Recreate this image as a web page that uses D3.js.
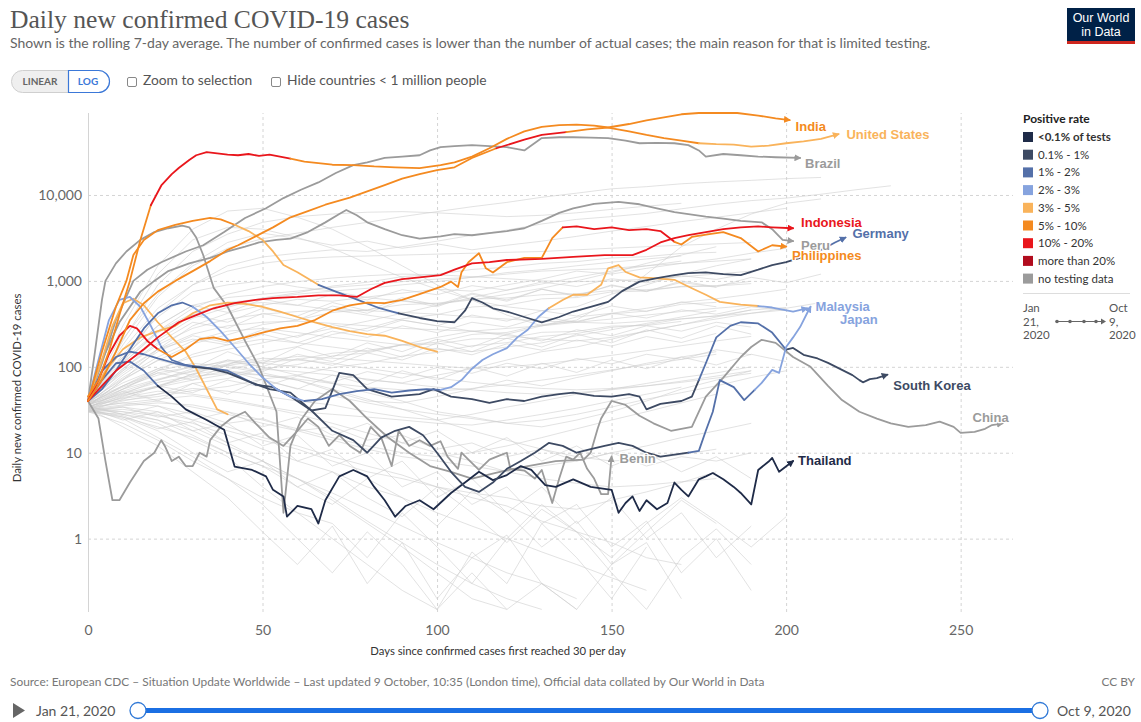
<!DOCTYPE html>
<html>
<head>
<meta charset="utf-8">
<script src="https://cdn.jsdelivr.net/npm/d3@7"></script>
<style>
  body { margin: 0; background: #fff; }
  svg { display: block; font-family: Lato, "Noto Sans", sans-serif; }
</style>
</head>
<body>
<svg id="chart" width="1141" height="722"></svg>
<script>
// ---------------------------------------------------------------------------
// Data: rolling 7-day average of daily new confirmed cases, indexed by
// days since the country first reached 30 cases per day.
// Each highlighted country: [day, cases] points + positive-rate bands [fromDay, band].
// ---------------------------------------------------------------------------
const yTickValues = [1, 10, 100, 1000, 10000];
const xTickValues = [0, 50, 100, 150, 200, 250];

const unitedStates = [[0,45],[3,70],[6,150],[9,400],[12,1000],[15,3000],[18,7600],[21,12900],[24,17500],[26,20600],[29,25500],[31,29000],[34,31500],[37,30500],[40,29500],[43,29000],[46,30000],[49,28500],[52,29500],[55,28000],[58,26500],[62,24500],[66,23500],[70,22500],[76,22300],[82,21500],[88,21000],[95,20500],[101,22300],[105,24000],[110,28000],[115,35000],[120,45000],[125,55000],[130,62000],[135,65000],[140,66000],[145,64000],[149,61000],[155,55000],[160,50000],[165,46000],[170,43000],[175,40000],[180,39000],[185,38500],[190,36500],[195,37500],[200,40000],[205,42000],[210,45000],[215,51000]];
const unitedStatesRate = [[0,'f'],[18,'g'],[57,'f'],[172,'e']];

const india = [[0,40],[4,70],[8,150],[12,350],[16,550],[20,750],[25,1000],[30,1300],[35,1700],[40,2300],[43,2600],[48,3300],[53,4200],[58,5500],[63,6500],[68,7700],[75,9300],[80,11000],[85,13000],[90,15500],[95,17500],[100,19500],[105,21000],[110,27000],[117,35000],[125,44000],[130,50000],[137,54000],[143,58000],[149,61000],[155,67000],[160,74000],[165,80000],[170,87000],[175,92000],[180,92000],[186,90000],[192,84000],[197,78000],[201,74500]];
const indiaRate = [[0,'f'],[115,'g'],[137,'f']];

const brazil = [[0,40],[4,110],[8,350],[13,1000],[17,1350],[21,1650],[28,2200],[33,2600],[39,3700],[45,5400],[51,7000],[56,9200],[61,11500],[66,14000],[71,18000],[76,22300],[80,24000],[85,27000],[90,28000],[95,29000],[98,33000],[101,36000],[105,37000],[110,38000],[115,37000],[120,36000],[125,33000],[130,46000],[135,47000],[139,47000],[144,46500],[149,46000],[154,43000],[158,40000],[163,40500],[168,40000],[172,38000],[175,33000],[177,28000],[182,30000],[187,29000],[192,28000],[197,27500],[204,27000]];
const brazilRate = [[0,'n']];

const indonesia = [[0,40],[4,60],[8,90],[12,120],[16,160],[20,220],[26,330],[31,400],[36,480],[42,550],[48,600],[53,630],[60,650],[66,680],[72,680],[77,650],[81,800],[85,950],[90,1050],[95,1100],[101,1170],[105,1350],[110,1600],[115,1650],[120,1750],[130,1800],[139,1900],[148,2000],[156,2000],[160,2300],[164,2800],[168,3150],[172,3400],[177,3700],[182,4000],[187,4200],[192,4300],[196,4200],[202,4100]];
const indonesiaRate = [[0,'g']];

const peru = [[0,40],[4,120],[9,330],[15,750],[19,1000],[23,1300],[29,1600],[35,1850],[40,2200],[45,2500],[49,2800],[54,3000],[58,3100],[63,3700],[68,4800],[72,6000],[74,6700],[77,5800],[80,4800],[85,4000],[90,3400],[95,3100],[101,3300],[105,3500],[110,3400],[115,3600],[120,3800],[125,4100],[130,5000],[135,6200],[139,7000],[145,7900],[152,8300],[158,7800],[163,7000],[168,6300],[172,6000],[177,5600],[182,5300],[187,5000],[193,4800],[196,4000],[199,3000],[202,2900]];
const peruRate = [[0,'n']];

const philippines = [[0,40],[3,70],[6,140],[9,230],[12,300],[14,280],[17,200],[20,160],[24,130],[28,160],[32,210],[36,220],[40,200],[45,220],[50,250],[55,280],[60,300],[65,350],[70,450],[75,520],[80,560],[85,550],[90,600],[95,700],[101,850],[104,980],[106,850],[107,1260],[109,1650],[112,2100],[114,1400],[116,1250],[120,1650],[125,1850],[130,1850],[133,3150],[136,4200],[140,4300],[145,4000],[150,4200],[155,3900],[160,4000],[164,3800],[168,2850],[170,2650],[173,3250],[178,3500],[182,3700],[187,3150],[192,2200],[196,2600],[200,2500]];
const philippinesRate = [[0,'g'],[20,'f'],[135,'g'],[165,'f']];

const germany = [[0,40],[4,150],[8,500],[11,1000],[13,2000],[16,3000],[20,3900],[25,4500],[30,5000],[35,5400],[38,5200],[42,4500],[46,3800],[50,3000],[53,2200],[56,1530],[60,1260],[66,900],[71,750],[76,630],[83,490],[89,420],[95,370],[100,340],[105,330],[108,450],[110,630],[113,560],[116,480],[120,440],[125,380],[130,330],[135,380],[139,440],[144,500],[149,570],[153,760],[158,980],[163,1080],[168,1170],[172,1230],[177,1260],[182,1200],[187,1170],[192,1350],[196,1530],[200,1650],[203,1800],[207,2000],[211,2400],[214,2800],[217,3200]];
const germanyRate = [[0,'f'],[40,'e'],[62,'c'],[85,'b'],[205,'c']];

const japan = [[0,40],[4,55],[8,90],[12,160],[16,280],[20,420],[24,520],[27,560],[30,500],[34,380],[38,260],[42,170],[46,110],[50,75],[54,55],[58,45],[62,40],[67,42],[72,48],[77,52],[82,55],[87,50],[92,53],[97,55],[101,54],[104,58],[107,70],[110,95],[113,120],[116,140],[120,165],[123,220],[126,270],[129,380],[132,480],[136,600],[139,690],[143,690],[147,900],[149,1400],[152,1530],[154,1270],[158,1100],[162,1080],[168,1030],[173,820],[177,690],[181,570],[187,530],[192,510],[196,490],[202,440],[206,480]];
const japanRate = [[0,'c'],[30,'d'],[60,'c'],[100,'d'],[131,'e'],[190,'d']];

const malaysia = [[0,40],[4,90],[8,130],[12,150],[16,140],[20,125],[25,110],[30,100],[35,95],[40,85],[47,65],[52,55],[58,50],[64,31],[70,18],[76,14],[80,10],[84,15],[88,18],[92,20],[96,16],[100,10],[104,6],[108,4],[112,3.5],[116,4.5],[120,6.5],[124,8],[128,10],[132,13],[136,12],[140,10],[144,11],[148,12],[152,13],[156,12],[160,10],[164,9],[168,9.5],[172,10],[175,10.5],[177,18],[179,30],[181,70],[185,58],[188,41],[191,54],[193,65],[196,92],[198,85],[200,170],[202,220],[204,290],[206,420],[207,500]];
const malaysiaRate = [[0,'c'],[30,'b'],[170,'c'],[190,'d']];

const southKorea = [[0,40],[3,120],[6,350],[9,600],[12,650],[15,500],[18,300],[21,170],[24,120],[28,105],[32,100],[36,95],[40,90],[44,75],[48,62],[53,58],[58,45],[64,31],[68,33],[72,85],[76,80],[80,55],[87,45],[95,48],[99,55],[104,45],[110,42],[115,38],[120,42],[125,40],[130,45],[135,48],[139,50],[145,46],[150,45],[155,48],[158,45],[160,32],[164,37],[170,40],[173,45],[175,70],[177,110],[180,220],[184,300],[187,330],[192,320],[196,250],[200,158],[202,166],[205,138],[209,125],[212,111],[216,92],[219,80],[221,70],[222,66],[224,72],[226,74],[229,81]];
const southKoreaRate = [[0,'d'],[20,'c'],[45,'b'],[175,'c'],[198,'b']];

const thailand = [[0,40],[4,70],[8,110],[12,115],[16,90],[20,60],[24,45],[28,32],[34,24],[39,18.5],[42,6.9],[47,6.3],[51,5.3],[53,3.7],[56,3.1],[57,1.8],[60,2.4],[64,2.2],[66,1.5],[68,2.8],[72,5.3],[76,6.3],[80,5.3],[82,4],[85,2.8],[88,1.8],[91,2.4],[95,2.8],[99,2.2],[104,3.4],[108,4.5],[112,6],[116,4.8],[120,5.5],[124,7],[127,6.3],[131,4.2],[134,4],[139,4.9],[144,4],[150,3.7],[152,2],[154,2.6],[156,3.1],[158,2.1],[160,2.8],[163,2.2],[166,2.6],[168,4.5],[170,3.7],[172,3.1],[175,4.9],[177,5.3],[179,5.8],[182,4.9],[185,4],[187,3.4],[190,2.5],[192,6.3],[195,7.9],[196,8.7],[198,6],[202,8]];
const thailandRate = [[0,'c'],[20,'a']];

const china = [[0,40],[2,150],[4,600],[5,1000],[8,1600],[11,2200],[15,3000],[19,3700],[23,4100],[27,4400],[29,4200],[31,3200],[33,2000],[36,830],[40,500],[45,200],[49,100],[54,30],[56,2],[58,12],[61,24],[65,40],[70,55],[75,40],[80,25],[86,15],[92,10],[98,7],[104,6],[110,5],[118,6],[126,7],[134,8],[142,8.3],[144,10],[146,19],[147,25],[150,40],[154,36],[158,27],[162,22],[167,18],[173,20],[177,45],[182,75],[187,130],[190,170],[193,206],[197,190],[202,130],[207,100],[212,60],[216,41],[221,30],[226,25],[230,22],[235,20],[240,21],[244,23],[248,20],[250,17],[254,17.5],[257,19],[259,21],[262,22]];
const chinaRate = [[0,'n']];

const benin = [[0,40],[3,25],[5,8],[7,2.8],[9,2.8],[12,4.5],[16,8],[19,10],[21,14],[22,12],[24,8],[26,9],[28,7],[30,7],[32,10],[34,9],[35,14],[38,20],[41,25],[45,30],[48,22],[52,15],[56,12],[60,18],[63,25],[66,20],[69,12],[72,16],[75,12],[78,10],[81,20],[84,15],[87,7],[89,18],[92,12],[95,14],[98,12],[101,13.6],[103,9],[106,6.5],[107,10],[109,8.3],[112,6.3],[115,8.3],[118,9.3],[120,10],[121,6.5],[125,6.2],[128,5],[130,6.3],[133,2.6],[135,5],[137,9],[139,8.3],[141,10],[143,6.5],[145,5],[147,3.3],[149,3.3],[150,9]];
const beninRate = [[0,'n']];

// Two further coloured countries drawn without an end label
const earlyPeakA = [[0,40],[4,120],[7,300],[10,550],[13,620],[16,520],[20,330],[24,220],[28,150],[31,95],[34,55],[37,32],[40,28]];
const earlyPeakARate = [[0,'e']];
const earlyPeakB = [[0,40],[5,90],[10,160],[15,220],[20,260],[25,300],[30,420],[35,520],[40,560],[45,540],[50,500],[55,440],[60,380],[65,330],[70,290],[75,260],[80,240],[85,230],[90,200],[95,170],[100,150]];
const earlyPeakBRate = [[0,'e']];

// Remaining countries (light grey), one value every 10 days from day 0
const backgroundSeries = [
  [42,180,650,1500,2400,3100,3600,4200,4800,5600,6400,7300,8200,9400,10500,11800,12500,13500,14200,14800,15500,16000],
  [38,110,420,900,1500,1900,2100,2300,2200,2500,2900,3400,3900,4600,5200,5600,6100,6900,7800,8600,9200,10200,11500,12800],
  [35,70,160,300,420,520,610,580,650,720,800,760,900,1050,1300,1200,1400,1600,1800,2100,2400],
  [40,140,380,750,900,1000,850,760,640,580,540,600,700,820,1000,1250,1600,2000,2500],
  [33,55,90,140,180,210,190,170,150,180,220,260,240,300,380,420,480,560,620,700,800],
  [36,48,70,95,120,110,100,90,70,65,80,95,120,150,170,210,260,310,360,420,480,560],
  [30,42,60,75,90,80,70,52,40,38,45,55,70,60,75,90,110,130,150],
  [44,90,220,400,560,620,700,760,820,900,980,1100,1250,1350,1500,1650,1800,1950],
  [32,40,48,56,52,46,40,36,30,26,24,28,34,40,48,55,64,75,85,100],
  [38,75,130,200,260,280,250,220,200,180,160,150,170,190,230,270,320,380,450],
  [31,34,30,24,18,14,11,8,6,5,4,3.4,3,2.4,2.2,2.8,3.5,4.5,6],
  [40,60,85,100,115,100,80,64,50,40,30,26,22,20,24,30,40,55,70,90],
  [34,38,35,28,20,15,12,9,7,5.5,4,3,2.4,1.6,1.2,0.9,0.6,0.5],
  [45,130,300,520,640,700,760,840,900,980,1050,1100,1200,1300,1350,1400,1500,1600,1700,1800],
  [36,49,60,82,93,113,121,144,155,180,184,211,214,252,258,298,302,338],
  [30,26,20,15,10,7,5,3.4,2.2,1.4,0.9,0.6,0.4,0.3,0.2],
  [42,95,180,280,360,410,440,460,450,430,410,380,360,340,330,320,340,360,390,420,460],
  [39,65,95,130,160,190,230,280,340,420,520,640,780,920,1100,1300,1500,1700],
  [33,44,52,48,42,35,30,28,26,24,22,21,24,28,33,40,48,58],
  [37,60,90,110,100,85,70,55,42,32,24,18,14,11,9,8,8.5,9.5,11],
  [41,120,260,420,520,560,520,460,400,350,300,260,230,210,200,220,260,310,380,460],
  [35,43,48,64,73,95,106,134,145,181,193,238,251,310,338,412,446,535,562],
  [30,28,24,18,12,8,5,3,1.6,0.9,0.5,0.3,0.2,0.15],
  [38,58,80,100,90,70,56,46,38,32,28,25,22,24,28,34,42,50,60,75,90],
  [34,47,58,83,106,146,172,238,281,362,405,497,522,618,640,745,762,865,880,990],
  [43,160,480,900,1300,1600,1800,1900,1950,2000,2050,2100,2150,2200,2300,2400,2500,2600,2700,2800],
  [32,36,40,34,28,22,18,14,11,9,8,7,6,7,8,10,12,15,18,22],
  [37,52,70,88,104,118,132,126,118,110,102,96,100,108,120,136,154,176,200,226],
  [31,30,27,22,16,11,8,6,4,3,2,1.4,1,0.7,0.5,0.35,0.25],
  [40,85,160,240,300,330,340,320,300,280,270,260,280,300,330,360,400,440,480,520],
  [35,41,45,53,59,72,80,98,110,133,147,176,191,226,244,288,309,362,392,458,490],
  [44,110,260,480,700,860,980,1080,1150,1200,1180,1120,1060,1000,980,1000,1050,1120,1200,1300],
  [33,38,42,46,40,34,28,22,17,13,10,8,6,5,4.4,4,4.2,4.6,5],
  [36,50,66,78,84,80,72,64,58,54,52,56,62,70,80,92,106,122,140],
  [30,32,28,20,13,8,5,2.8,1.5,0.8,0.4,0.2,0.15],
  [39,72,118,185,236,310,352,430,462,528,551,612,633,690,708,775,790,852,871,930],
  [34,46,58,70,82,94,88,80,72,64,58,54,50,48,50,54,60,68,78,90],
  [42,104,206,368,492,633,728,871,965,1120,1195,1360,1440,1600,1676,1850,1915,2090,2150],
  [31,35,38,36,30,24,19,15,12,10,9,10,12,15,19,24,30,38,48],
  [38,55,72,90,108,126,120,110,96,84,74,66,60,56,54,56,60,66,74,84],
  [44,300,1500,4000,6500,7000,5500,4000,2500,1500,900,600,400,300,350,600,1200,2500,4000,6000,8000,9000],
  [42,250,1200,3000,4200,4000,3200,2400,1600,1100,800,600,500,450,500,700,900,1200,1500,1800],
  [40,200,900,2200,3500,4800,5600,6000,6300,6400,6200,5900,5600,5800,6200,6800,7400,8000],
  [33,20,12,6,3,1.2,0.5,1.4,0.3,0.9,0.2,0.6,1.1,0.3,0.15,0.5,0.9,0.2],
  [31,25,15,9,5,2.5,1,0.4,1.2,0.5,0.15,0.7,0.3,1.5,0.6,0.2,0.8],
  [35,28,22,14,9,4,2,1.5,0.6,2,0.8,0.3,1,2.5,1.2,0.4,0.15,0.6,1.3,0.5],
  [30,22,14,8,5,3,2,1,0.5,0.25,0.15,0.4,0.15,0.3,0.15],
  [34,30,24,16,10,7,4,6,3,1.8,4,2,0.9,2.2,1.2,0.6,1.5,3,1.6,0.8,1.8],
  [32,26,18,10,6,8,4,2.5,5,3,1.4,3.6,2,0.8,1.6,0.5,1.2,2.8,1.5],
  [38,90,160,210,180,240,190,260,220,300,250,330,290,380,330,420,370,460,410,500,450],
  [35,70,120,95,150,110,170,130,190,150,210,170,240,200,270,230,300,260,330,290],
  [41,130,300,520,430,610,520,700,600,790,690,880,780,970,860,1060,950,1150,1040,1240],
  [33,52,40,64,48,72,55,80,62,90,70,100,78,110,86,120,95,130,105,140,115],
  [36,60,95,80,120,100,140,115,165,130,190,150,215,170,240,190,270,215,300,240],
  [30,34,26,30,22,25,18,20,14,16,11,13,9,11,8,10,7,9,8,10],
  [39,110,250,400,330,480,390,560,450,640,520,720,600,800,680,880,760,960,840],
  [32,45,60,50,70,58,78,66,88,74,98,84,110,95,125,108,140,122,158,138],
  [44,210,700,1600,2800,3600,3100,2600,2900,2400,2700,2300,2600,2900,3300,3800,4300,4900,5500,6200,7000],
  [37,80,150,230,190,270,220,310,260,350,300,400,340,450,390,510,440,570,500],
  [34,28,35,24,30,20,26,16,22,13,18,10,15,8,12,7,10,6,9,5],
  [31,27,19,23,13,17,8,11,5,8,3,5,2,4,1.5,3,1,2,0.6,1.4],
  [40,95,190,330,280,420,350,510,420,600,500,700,580,800,660,900,750,1000,850,1100,950,1200],
  [36,55,85,70,105,88,125,104,145,120,165,138,185,156,205,174,225,192,245],
  [33,24,30,18,22,12,16,7,10,4,6,2.5,4,1.5,2.5,0.8,1.6,0.4,1,0.25]
];
const backgroundStep = 10;

const rateKeys = ['a','b','c','d','e','f','g','h','n'];
const rateLabels = ['<0.1% of tests','0.1% - 1%','1% - 2%','2% - 3%','3% - 5%','5% - 10%','10% - 20%','more than 20%','no testing data'];

// ---------------------------------------------------------------------------
// Styling and layout
// ---------------------------------------------------------------------------
const rateColors = {a:'#1f2b48', b:'#3d4a63', c:'#5470a9', d:'#86a3de', e:'#f9b35b', f:'#f48a20', g:'#e9161c', h:'#b10c1e', n:'#9b9b9b'};

const countries = [
  {name:'Benin', pts:benin, rates:beninRate, label:[8,6]},
  {name:'China', pts:china, rates:chinaRate, label:[-30,-1]},
  {name:'Peru', pts:peru, rates:peruRate, label:[8,9]},
  {name:'Brazil', pts:brazil, rates:brazilRate, label:[5,10]},
  {name:null, pts:earlyPeakA, rates:earlyPeakARate},
  {name:null, pts:earlyPeakB, rates:earlyPeakBRate},
  {name:'Thailand', pts:thailand, rates:thailandRate, label:[5,4]},
  {name:'South Korea', pts:southKorea, rates:southKoreaRate, label:[6,15]},
  {name:'Malaysia', pts:malaysia, rates:malaysiaRate, label:[5,4]},
  {name:'Japan', pts:japan, rates:japanRate, label:[33,16]},
  {name:'Germany', pts:germany, rates:germanyRate, label:[7,1]},
  {name:'Philippines', pts:philippines, rates:philippinesRate, label:[6,13]},
  {name:'Indonesia', pts:indonesia, rates:indonesiaRate, label:[8,-1]},
  {name:'India', pts:india, rates:indiaRate, label:[6,11]},
  {name:'United States', pts:unitedStates, rates:unitedStatesRate, label:[8,5]}
];

const svg = d3.select('#chart');
const plot = {left:88, right:1013, top:113, bottom:612};

const x = d3.scaleLinear().domain([0, 265]).range([plot.left, plot.right]);
const y = d3.scaleLog().domain([0.14, 90000]).range([plot.bottom, plot.top]).clamp(true);

svg.append('rect').attr('width', 1141).attr('height', 722).attr('fill', '#fff');

// Header
svg.append('text').attr('x', 10).attr('y', 28)
  .style('font-family', '"Liberation Serif", "DejaVu Serif", serif')
  .style('font-size', '25.6px').attr('fill', '#555')
  .text('Daily new confirmed COVID-19 cases');
svg.append('text').attr('x', 10).attr('y', 48)
  .style('font-size', '14px').attr('fill', '#666')
  .text('Shown is the rolling 7-day average. The number of confirmed cases is lower than the number of actual cases; the main reason for that is limited testing.');

// Logo
const logo = svg.append('g');
logo.append('rect').attr('x', 1067).attr('y', 8).attr('width', 68).attr('height', 36).attr('fill', '#002147');
logo.append('rect').attr('x', 1067).attr('y', 41).attr('width', 68).attr('height', 3).attr('fill', '#ce261e');
logo.append('text').attr('x', 1101).attr('y', 22).attr('text-anchor', 'middle').attr('fill', '#fff')
  .style('font-family', '"Liberation Sans", Arial, sans-serif').style('font-size', '12.5px').text('Our World');
logo.append('text').attr('x', 1101).attr('y', 36).attr('text-anchor', 'middle').attr('fill', '#fff')
  .style('font-family', '"Liberation Sans", Arial, sans-serif').style('font-size', '12.5px').text('in Data');

// Scale toggle and checkboxes
const ctl = svg.append('g');
ctl.append('rect').attr('x', 11.5).attr('y', 70.5).attr('width', 98).attr('height', 22).attr('rx', 11)
  .attr('fill', '#efefef').attr('stroke', '#cfcfcf');
ctl.append('path').attr('d', 'M68.5,70.5 H98.5 A11,11 0 0 1 98.5,92.5 H68.5 Z')
  .attr('fill', '#fff').attr('stroke', '#3b78d8').attr('stroke-width', 1.2);
ctl.append('text').attr('x', 40).attr('y', 85).attr('text-anchor', 'middle')
  .style('font-size', '10px').style('font-weight', 700).attr('fill', '#666').text('LINEAR');
ctl.append('text').attr('x', 88).attr('y', 85).attr('text-anchor', 'middle')
  .style('font-size', '10px').style('font-weight', 700).attr('fill', '#3b78d8').text('LOG');
[[127, 143, 'Zoom to selection'], [271, 287, 'Hide countries < 1 million people']].forEach(([bx, tx, t]) => {
  ctl.append('rect').attr('x', bx + 0.5).attr('y', 77.5).attr('width', 9).attr('height', 9).attr('rx', 1.5)
    .attr('fill', '#fff').attr('stroke', '#888');
  ctl.append('text').attr('x', tx).attr('y', 85).style('font-size', '13.8px').attr('fill', '#555').text(t);
});

// Axes with gridlines
const yAxis = d3.axisLeft(y).tickValues(yTickValues).tickFormat(d3.format(','))
  .tickSize(-(plot.right - plot.left)).tickPadding(6);
const gy = svg.append('g').attr('transform', `translate(${plot.left},0)`).call(yAxis);
gy.select('.domain').remove();
gy.selectAll('.tick line').attr('stroke', '#d4d4d4').attr('stroke-dasharray', '3,3');
gy.selectAll('.tick text').attr('fill', '#666').style('font-size', '14px').style('font-family', 'Lato, sans-serif');

const xAxis = d3.axisBottom(x).tickValues(xTickValues).tickSize(-(plot.bottom - plot.top)).tickPadding(13);
const gx = svg.append('g').attr('transform', `translate(0,${plot.bottom})`).call(xAxis);
gx.select('.domain').remove();
gx.selectAll('.tick line').attr('stroke', '#d4d4d4').attr('stroke-dasharray', d => d === 0 ? null : '3,3');
gx.selectAll('.tick text').attr('fill', '#666').style('font-size', '14px').style('font-family', 'Lato, sans-serif');

svg.append('text')
  .attr('transform', 'translate(21,388) rotate(-90)')
  .attr('text-anchor', 'middle').style('font-size', '11.4px').attr('fill', '#333')
  .text('Daily new confirmed COVID-19 cases');
svg.append('text').attr('x', 498).attr('y', 655).attr('text-anchor', 'middle')
  .style('font-size', '11.3px').attr('fill', '#333')
  .text('Days since confirmed cases first reached 30 per day');

// Background countries
const bgLine = d3.line().x((d, i) => x(i * backgroundStep)).y(d => y(d));
svg.append('g').selectAll('path').data(backgroundSeries).join('path')
  .attr('d', bgLine).attr('fill', 'none').attr('stroke', '#cdcdcd')
  .attr('stroke-width', 0.9).attr('stroke-opacity', 0.65).attr('stroke-linejoin', 'round');

// Arrowhead markers for labelled line ends
const defs = svg.append('defs');
rateKeys.forEach(k => {
  defs.append('marker').attr('id', 'arrow-' + k).attr('viewBox', '0 0 10 10')
    .attr('refX', 8).attr('refY', 5).attr('markerWidth', 7).attr('markerHeight', 7)
    .attr('markerUnits', 'userSpaceOnUse').attr('orient', 'auto')
    .append('path').attr('d', 'M0,0 L10,5 L0,10 Z').attr('fill', rateColors[k]);
});

// Split a country's line wherever its positive-rate band changes
function bandAt(rates, day) {
  let k = rates[0][1];
  for (const [d, band] of rates) if (day >= d) k = band;
  return k;
}
function segmentsOf(c) {
  const segs = [];
  let cur = null;
  for (let i = 1; i < c.pts.length; i++) {
    const k = bandAt(c.rates, c.pts[i - 1][0]);
    if (!cur || cur.key !== k) { cur = {key: k, pts: [c.pts[i - 1]]}; segs.push(cur); }
    cur.pts.push(c.pts[i]);
  }
  return segs;
}

const hiLine = d3.line().x(d => x(d[0])).y(d => y(d[1]));
const gHi = svg.append('g');
countries.forEach(c => {
  const segs = segmentsOf(c);
  segs.forEach((s, i) => {
    const p = gHi.append('path').attr('d', hiLine(s.pts)).attr('fill', 'none')
      .attr('stroke', rateColors[s.key]).attr('stroke-width', 1.8)
      .attr('stroke-linejoin', 'round').attr('stroke-linecap', 'round');
    if (c.name && i === segs.length - 1) p.attr('marker-end', `url(#arrow-${s.key})`);
  });
});

// End labels (white halo so later labels sit on top of earlier ones)
countries.filter(c => c.name).forEach(c => {
  const last = c.pts[c.pts.length - 1];
  const key = bandAt(c.rates, c.pts[c.pts.length - 2][0]);
  svg.append('text')
    .attr('x', x(last[0]) + c.label[0]).attr('y', y(last[1]) + c.label[1])
    .style('font-family', '"Liberation Sans", Arial, sans-serif')
    .style('font-size', '13px').style('font-weight', 700)
    .style('paint-order', 'stroke').attr('stroke', '#fff').attr('stroke-width', 2.5)
    .attr('stroke-linejoin', 'round')
    .attr('fill', rateColors[key]).text(c.name);
});

// Legend
const lg = svg.append('g');
lg.append('text').attr('x', 1023).attr('y', 123).style('font-size', '12px').style('font-weight', 700)
  .attr('fill', '#222').text('Positive rate');
rateKeys.forEach((k, i) => {
  const cy = 137 + i * 17.7;
  lg.append('rect').attr('x', 1023).attr('y', cy - 5).attr('width', 10).attr('height', 10).attr('fill', rateColors[k]);
  lg.append('text').attr('x', 1038).attr('y', cy + 4).style('font-size', '11.5px')
    .style('font-weight', i === 0 ? 700 : 400).attr('fill', '#333').text(rateLabels[i]);
});
lg.append('line').attr('x1', 1023).attr('x2', 1130).attr('y1', 293.5).attr('y2', 293.5).attr('stroke', '#ddd');
['Jan', '21,', '2020'].forEach((t, i) =>
  lg.append('text').attr('x', 1023).attr('y', 312 + i * 13.5).style('font-size', '11.5px').attr('fill', '#555').text(t));
['Oct', '9,', '2020'].forEach((t, i) =>
  lg.append('text').attr('x', 1109).attr('y', 312 + i * 13.5).style('font-size', '11.5px').attr('fill', '#555').text(t));
lg.append('line').attr('x1', 1056).attr('x2', 1101).attr('y1', 321.5).attr('y2', 321.5).attr('stroke', '#666');
lg.append('path').attr('d', 'M1101,318.5 L1106,321.5 L1101,324.5 Z').attr('fill', '#666');
[1057, 1070, 1084, 1096].forEach(cx =>
  lg.append('circle').attr('cx', cx).attr('cy', 321.5).attr('r', 1.8).attr('fill', '#666'));

// Footer
svg.append('text').attr('x', 10).attr('y', 686).style('font-size', '11.9px').attr('fill', '#777')
  .text('Source: European CDC – Situation Update Worldwide – Last updated 9 October, 10:35 (London time), Official data collated by Our World in Data');
svg.append('text').attr('x', 1135).attr('y', 686).attr('text-anchor', 'end').style('font-size', '11.9px')
  .attr('fill', '#777').text('CC BY');

// Timeline
const tl = svg.append('g');
tl.append('path').attr('d', 'M13,703 L25,710.5 L13,718 Z').attr('fill', '#666');
tl.append('text').attr('x', 36).attr('y', 716).style('font-size', '14px').attr('fill', '#555').text('Jan 21, 2020');
tl.append('rect').attr('x', 138).attr('y', 708).attr('width', 902).attr('height', 5).attr('rx', 2).attr('fill', '#1b6fe3');
[138, 1040].forEach(cx =>
  tl.append('circle').attr('cx', cx).attr('cy', 710.5).attr('r', 8).attr('fill', '#fff')
    .attr('stroke', '#2f78d6').attr('stroke-width', 1.3));
tl.append('text').attr('x', 1057).attr('y', 716).style('font-size', '14px').attr('fill', '#555').text('Oct 9, 2020');
</script>
</body>
</html>
